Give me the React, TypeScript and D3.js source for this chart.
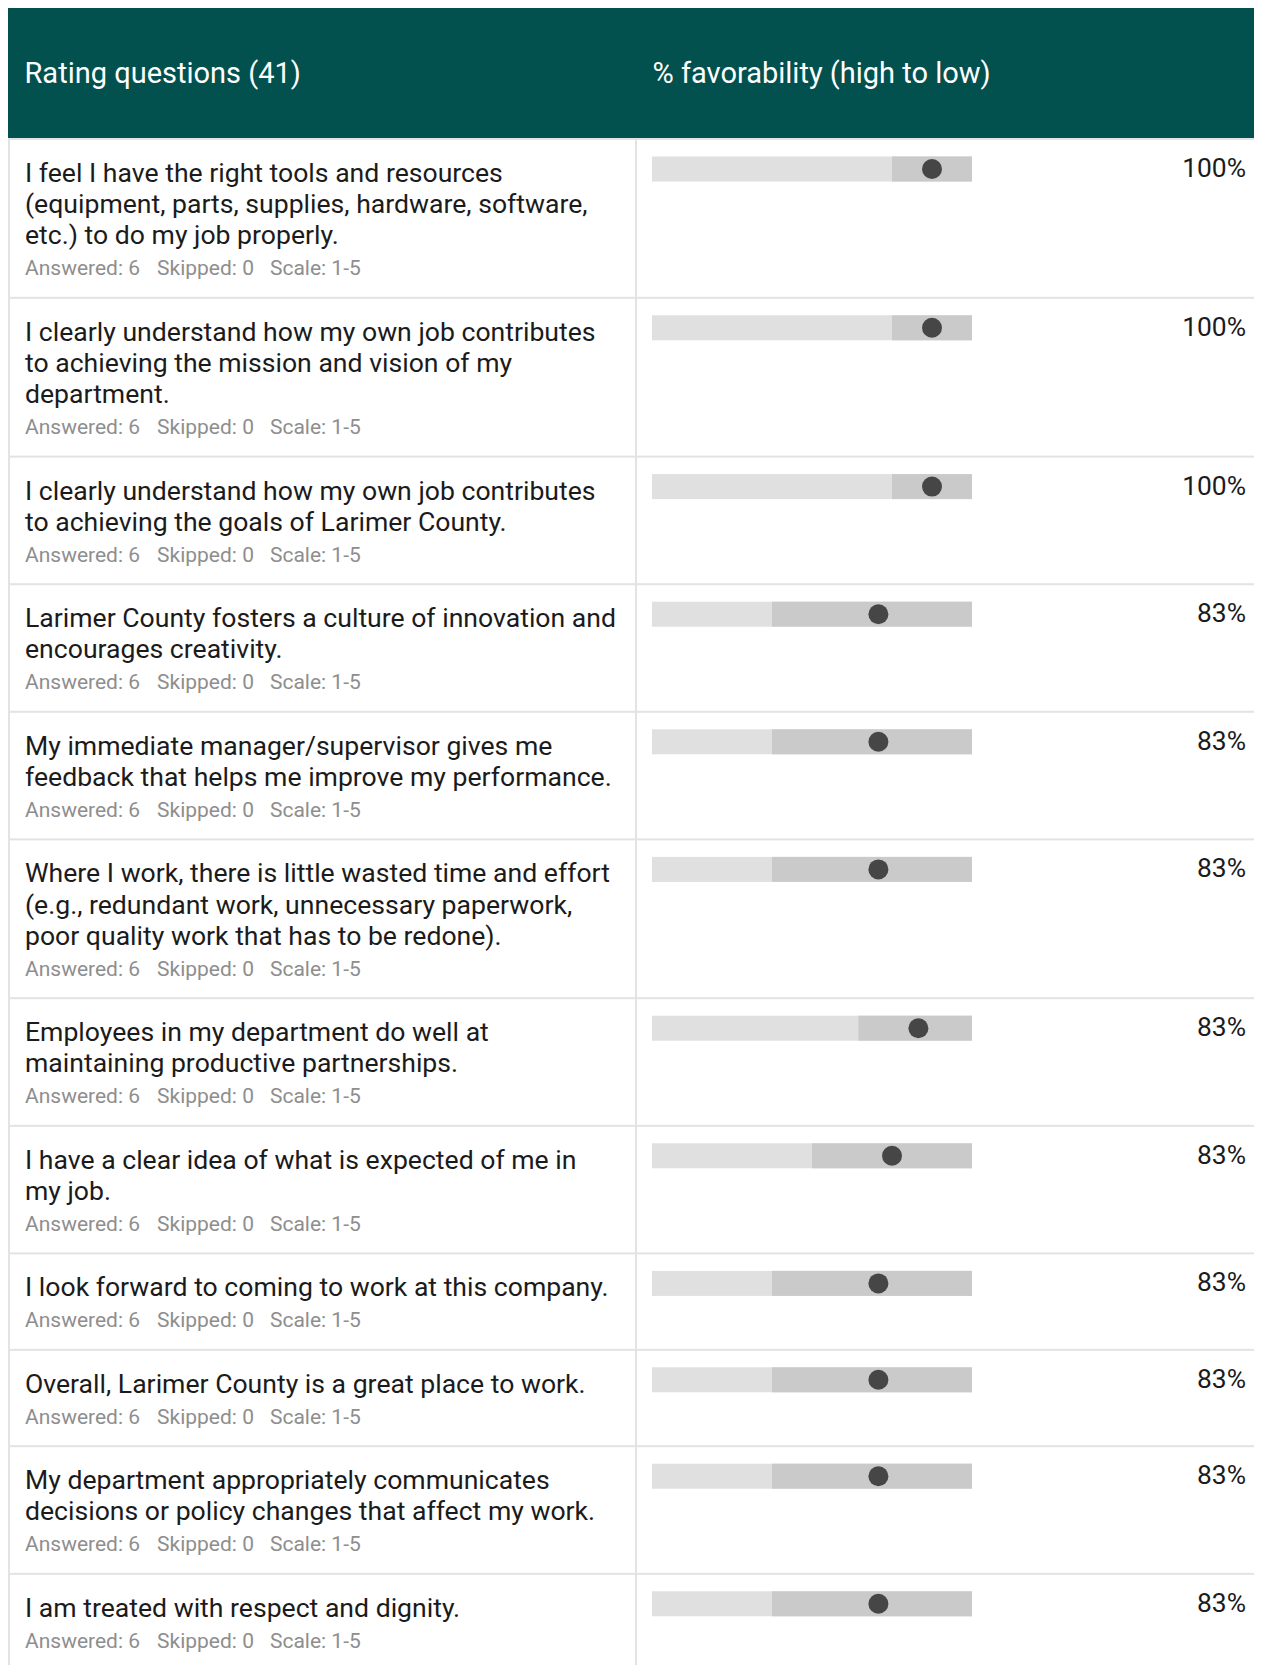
import React, { useRef, useEffect } from 'react';
import * as d3 from 'd3';

// --- DATA ---
const questionLines: string[][] = [
  ["I feel I have the right tools and resources", "(equipment, parts, supplies, hardware, software,", "etc.) to do my job properly."],
  ["I clearly understand how my own job contributes", "to achieving the mission and vision of my", "department."],
  ["I clearly understand how my own job contributes", "to achieving the goals of Larimer County."],
  ["Larimer County fosters a culture of innovation and", "encourages creativity."],
  ["My immediate manager/supervisor gives me", "feedback that helps me improve my performance."],
  ["Where I work, there is little wasted time and effort", "(e.g., redundant work, unnecessary paperwork,", "poor quality work that has to be redone)."],
  ["Employees in my department do well at", "maintaining productive partnerships."],
  ["I have a clear idea of what is expected of me in", "my job."],
  ["I look forward to coming to work at this company."],
  ["Overall, Larimer County is a great place to work."],
  ["My department appropriately communicates", "decisions or policy changes that affect my work."],
  ["I am treated with respect and dignity."],
];
const favorability = [100, 100, 100, 83, 83, 83, 83, 83, 83, 83, 83, 83];
const rangeLow = [4, 4, 4, 2.5, 2.5, 2.5, 3.58, 3, 2.5, 2.5, 2.5, 2.5];
const rangeHigh = [5, 5, 5, 5, 5, 5, 5, 5, 5, 5, 5, 5];
const averages = [4.5, 4.5, 4.5, 3.83, 3.83, 3.83, 4.33, 4, 3.83, 3.83, 3.83, 3.83];
const answered = [6, 6, 6, 6, 6, 6, 6, 6, 6, 6, 6, 6];
const skipped = [0, 0, 0, 0, 0, 0, 0, 0, 0, 0, 0, 0];
const scaleDomain: [number, number] = [1, 5];
const headerLabels = ["Rating questions (41)", "% favorability (high to low)"];

const FONT = "Roboto, 'Noto Sans', sans-serif";

export default function App() {
  const svgRef = useRef<SVGSVGElement>(null);

  useEffect(() => {
    if (!svgRef.current) return;
    // the table runs past the window edge, so hide scrollbars
    document.documentElement.style.overflow = "hidden";
    document.body.style.overflow = "hidden";

    const width = 1300; // wider than the window, clipped on the right
    const height = 1657;
    const headerH = 130;
    const colX = 628;
    const lineH = 31.2;
    const pctRight = 1238;

    const svg = d3.select(svgRef.current);
    svg.selectAll("*").remove();
    svg.attr("width", width).attr("height", height);

    svg.append("rect").attr("width", width).attr("height", height).attr("fill", "#fff");

    // header
    svg.append("rect").attr("width", width).attr("height", headerH).attr("fill", "#02514f");
    svg.append("text").attr("x", 16.5).attr("y", 75).attr("fill", "#fff")
      .style("font-family", FONT).style("font-size", "29px").text(headerLabels[0]);
    svg.append("text").attr("x", 644.5).attr("y", 75).attr("fill", "#fff")
      .style("font-family", FONT).style("font-size", "29px").text(headerLabels[1]);

    // row positions
    const rowH = questionLines.map(l => 96.4 + lineH * (l.length - 1));
    const rowTop: number[] = [];
    rowH.reduce((acc, h) => { rowTop.push(acc); return acc + h; }, headerH + 1);

    const x = d3.scaleLinear().domain(scaleDomain).range([644, 964]);

    const rows = svg.selectAll("g.row")
      .data(questionLines.map((lines, i) => ({ lines, i })))
      .enter().append("g")
      .attr("class", "row")
      .attr("transform", d => `translate(0,${rowTop[d.i]})`);

    // dividers
    rows.append("rect").attr("x", 0).attr("y", -1).attr("width", width).attr("height", 2).attr("fill", "#e3e3e3");

    // question text + meta line
    rows.each(function (d) {
      const g = d3.select(this);
      d.lines.forEach((ln, j) => {
        g.append("text").attr("x", 17).attr("y", 43 + j * lineH)
          .attr("fill", "#1b1b1b")
          .style("font-family", FONT).style("font-size", "26.6px")
          .text(ln);
      });
      const meta = g.append("text")
        .attr("x", 17).attr("y", 74 + lineH * (d.lines.length - 1))
        .attr("fill", "#8e8e8e")
        .style("font-family", FONT).style("font-size", "21px");
      meta.append("tspan").text(`Answered: ${answered[d.i]}`);
      meta.append("tspan").attr("dx", 17).text(`Skipped: ${skipped[d.i]}`);
      meta.append("tspan").attr("dx", 16).text(`Scale: ${scaleDomain[0]}-${scaleDomain[1]}`);
    });

    // bars: full scale, response range, average dot
    rows.append("rect")
      .attr("x", x(scaleDomain[0])).attr("y", 17.5)
      .attr("width", x(scaleDomain[1]) - x(scaleDomain[0])).attr("height", 25)
      .attr("fill", "#e0e0e0");
    rows.append("rect")
      .attr("x", d => x(rangeLow[d.i])).attr("y", 17.5)
      .attr("width", d => x(rangeHigh[d.i]) - x(rangeLow[d.i])).attr("height", 25)
      .attr("fill", "#cacaca");
    rows.append("circle")
      .attr("cx", d => x(averages[d.i])).attr("cy", 30).attr("r", 10)
      .attr("fill", "#464646");

    rows.append("text")
      .attr("x", pctRight).attr("y", 38)
      .attr("text-anchor", "end")
      .attr("fill", "#1b1b1b")
      .style("font-family", FONT).style("font-size", "26.4px")
      .text(d => `${favorability[d.i]}%`);

    // vertical borders
    svg.append("rect").attr("x", 0).attr("y", headerH).attr("width", 2).attr("height", height - headerH).attr("fill", "#e3e3e3");
    svg.append("rect").attr("x", colX - 1).attr("y", headerH).attr("width", 2).attr("height", height - headerH).attr("fill", "#e3e3e3");
  }, []);

  return (
    <div style={{ marginRight: -8 }}>
      <svg ref={svgRef} style={{ display: 'block' }}></svg>
    </div>
  );
}
